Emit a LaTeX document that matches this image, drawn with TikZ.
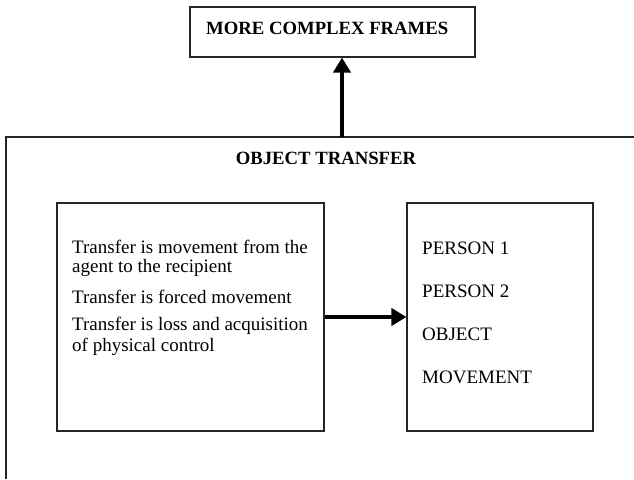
\documentclass[tikz,border=0pt]{standalone}
\usepackage{fontspec}
\setmainfont{Liberation Serif}
\usetikzlibrary{arrows.meta}
\begin{document}
\begin{tikzpicture}[x=1pt,y=-1pt,
  box/.style={draw=black!85,line width=1.1pt,rectangle,inner sep=0pt},
  txt/.style={font=\fontsize{19}{20}\selectfont,anchor=west,inner sep=0pt},
  btxt/.style={font=\fontsize{18.7}{20}\selectfont\bfseries,inner sep=0pt},
  thick arrow/.style={line width=4.5pt,-{Triangle[length=15pt,width=17pt]}}]
\useasboundingbox (0,0) rectangle (634,479);
% outer open frame
\coordinate (fl) at (6,479);
\coordinate (fc) at (6,137);
\coordinate (fr) at (634,137);
\draw[line width=1.1pt,draw=black!85] (fl) -- (fc) -- (fr);
% top box
\node[box,minimum width=285pt,minimum height=50pt] (top) at (332.5,32) {};
\node[btxt,anchor=west] (toptxt) at (206,28) {MORE COMPLEX FRAMES};
\coordinate (upstart) at (342,137);
\draw[thick arrow] (upstart) -- (upstart |- top.south);
% title
\node[btxt] (title) at (326,158) {OBJECT TRANSFER};
% left box
\node[box,minimum width=267pt,minimum height=228pt] (lbox) at (190.5,317) {};
\node[txt] (l1) at (72,247) {Transfer is movement from the};
\node[txt] (l2) at (72,268) {agent to the recipient};
\node[txt] (l3) at (72,297) {Transfer is forced movement};
\node[txt] (l4) at (72,326) {Transfer is loss and acquisition};
\node[txt] (l5) at (72,347) {of physical control};
% right box
\node[box,minimum width=186pt,minimum height=228pt] (rbox) at (500,317) {};
\node[txt] (r1) at (422,248) {PERSON 1};
\node[txt] (r2) at (422,291) {PERSON 2};
\node[txt] (r3) at (422,334) {OBJECT};
\node[txt] (r4) at (422,377) {MOVEMENT};
\draw[thick arrow] (lbox.east) -- (rbox.west);
\end{tikzpicture}
\end{document}
